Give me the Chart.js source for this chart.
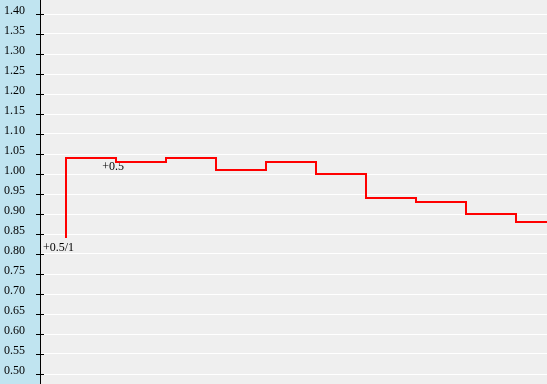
<!DOCTYPE html>
<html>
<head>
<meta charset="utf-8">
<script src="https://cdn.jsdelivr.net/npm/chart.js@4/dist/chart.umd.min.js"></script>
<style>
html,body{margin:0;padding:0;background:#c0e4f0;}
#wrap{width:547px;height:384px;position:relative;}
</style>
</head>
<body>
<div id="wrap"><canvas id="c" width="547" height="384"></canvas></div>
<script>
// Data
const stepIndex = [0, 1, 2, 3, 4, 5, 6, 7, 8, 9, 10];
const seriesValues = [0.84, 1.04, 1.03, 1.04, 1.01, 1.03, 1.00, 0.94, 0.93, 0.90, 0.88];
const yTickValues = [0.50,0.55,0.60,0.65,0.70,0.75,0.80,0.85,0.90,0.95,1.00,1.05,1.10,1.15,1.20,1.25,1.30,1.35,1.40];
const yTickLabels = ['0.50','0.55','0.60','0.65','0.70','0.75','0.80','0.85','0.90','0.95','1.00','1.05','1.10','1.15','1.20','1.25','1.30','1.35','1.40'];
const noteTexts = ['+0.5/1', '+0.5'];
const noteX = [0, 1];
const noteY = [0.8075, 1.01];

const bgPlugin = {
  id: 'bg',
  beforeDraw(chart) {
    const {ctx, chartArea: a} = chart;
    ctx.save();
    ctx.fillStyle = '#c0e4f0';
    ctx.fillRect(0, 0, chart.width, chart.height);
    ctx.fillStyle = '#efefef';
    ctx.fillRect(a.left, a.top, a.right - a.left, a.bottom - a.top);
    ctx.restore();
  }
};

const notesPlugin = {
  id: 'notes',
  beforeDatasetsDraw(chart) {
    const {ctx, scales} = chart;
    ctx.save();
    ctx.font = '12px "Liberation Serif", "Times New Roman", serif';
    ctx.fillStyle = '#000000';
    ctx.textAlign = 'right';
    ctx.textBaseline = 'alphabetic';
    noteTexts.forEach((t, i) => {
      const px = scales.x.getPixelForValue(noteX[i]) + 8;
      const py = scales.y.getPixelForValue(noteY[i]);
      ctx.fillText(t, px, py);
    });
    ctx.restore();
  }
};

const tickMarks = {
  id: 'tickMarks',
  afterDraw(chart) {
    const {ctx, scales} = chart;
    const s = scales.y;
    const x0 = Math.round(s.right);
    ctx.save();
    ctx.strokeStyle = '#000000';
    ctx.lineWidth = 1;
    ctx.beginPath();
    s.ticks.forEach((t, i) => {
      const y = Math.round(s.getPixelForTick(i)) + 0.5;
      ctx.moveTo(x0 - 4, y);
      ctx.lineTo(x0 + 4, y);
    });
    ctx.stroke();
    ctx.restore();
  }
};

new Chart(document.getElementById('c'), {
  type: 'line',
  data: {
    datasets: [{
      data: stepIndex.map((x, i) => ({x: x, y: seriesValues[i]})),
      borderColor: '#ff0000',
      borderWidth: 2,
      stepped: 'after',
      pointRadius: 0,
      fill: false
    }]
  },
  options: {
    responsive: false,
    animation: false,
    devicePixelRatio: 1,
    layout: {padding: 0, autoPadding: false},
    plugins: {legend: {display: false}, tooltip: {enabled: false}},
    scales: {
      x: {
        type: 'linear',
        min: -0.52,
        max: 9.62,
        display: false
      },
      y: {
        type: 'linear',
        position: 'left',
        min: 0.475,
        max: 1.435,
        afterBuildTicks(scale) {
          scale.ticks = yTickValues.map(v => ({value: v}));
        },
        afterFit(scale) {
          scale.width = 40;
          scale.paddingTop = 0;
          scale.paddingBottom = 0;
        },
        grid: {
          color: '#ffffff',
          lineWidth: 1,
          drawTicks: false,
          drawOnChartArea: true
        },
        border: {display: true, color: '#000000', width: 1},
        ticks: {
          autoSkip: false,
          padding: 15,
          color: '#000000',
          font: {family: '"Liberation Serif", "Times New Roman", serif', size: 12, lineHeight: '6px'},
          callback: (v, i) => [yTickLabels[i], '']
        }
      }
    }
  },
  plugins: [bgPlugin, notesPlugin, tickMarks]
});
</script>
</body>
</html>
